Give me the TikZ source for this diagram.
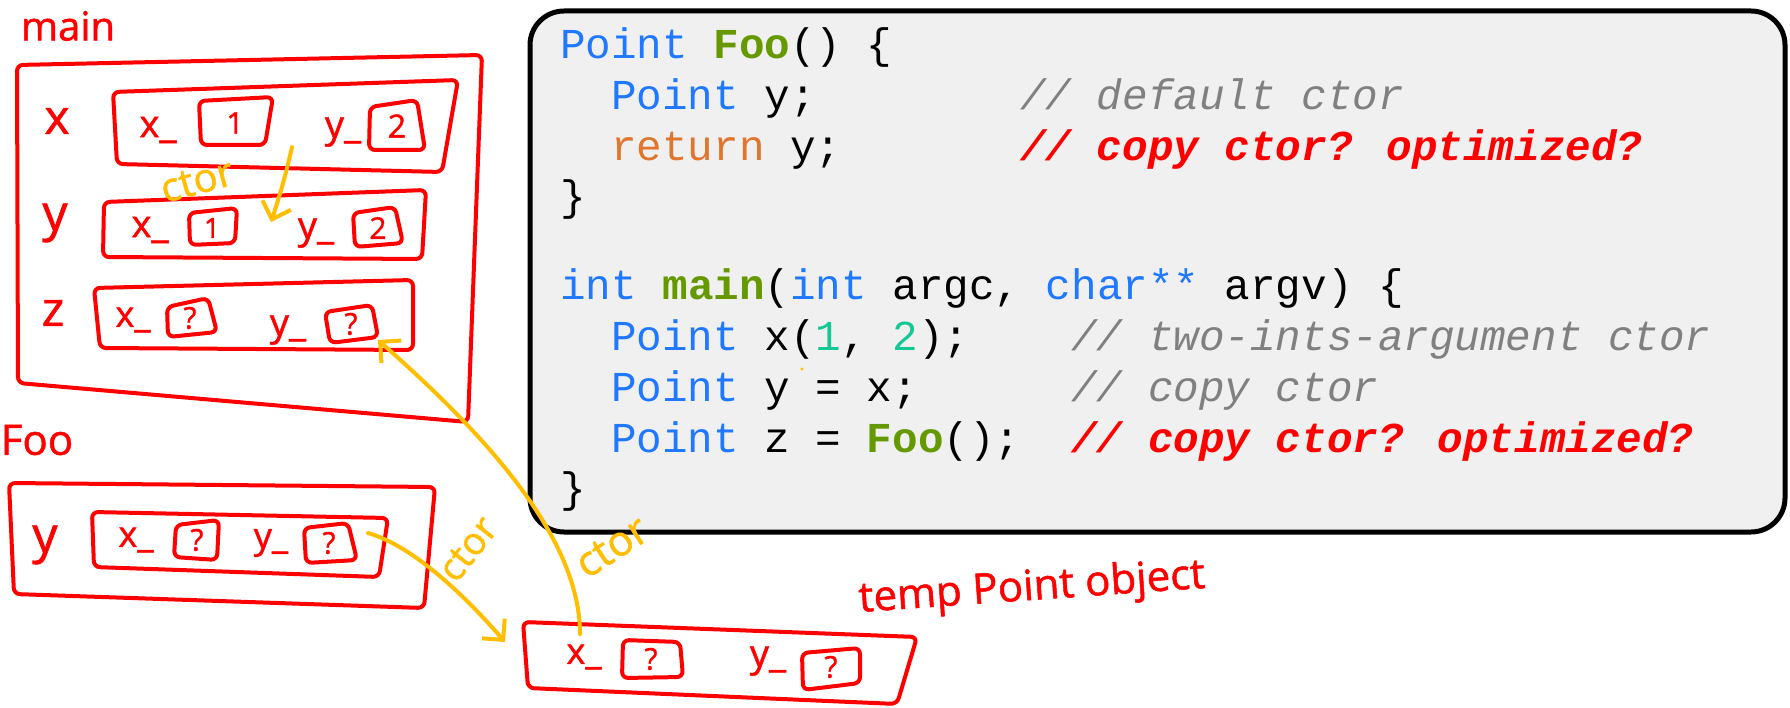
\documentclass[tikz,border=0pt]{standalone}
\usepackage{fontspec}
\usetikzlibrary{arrows.meta}
\newfontfamily\handfont[FakeBold=1.2]{Open Sans}
\newfontfamily\codefont{Liberation Mono}
\definecolor{inkred}{RGB}{255,0,0}
\definecolor{penyellow}{RGB}{255,190,0}
\definecolor{boxgray}{RGB}{240,240,240}
\definecolor{kw}{RGB}{31,120,255}
\definecolor{fn}{RGB}{102,153,0}
\definecolor{ret}{RGB}{224,117,45}
\definecolor{num}{RGB}{20,200,150}
\definecolor{cmt}{RGB}{128,128,128}
\definecolor{cmtred}{RGB}{255,0,0}
\begin{document}
\begin{tikzpicture}[x=1pt,y=-1pt,
  ink/.style={draw=inkred, line width=4pt, line cap=round, line join=round, rounded corners=6pt},
  pen/.style={draw=penyellow, line width=4pt, line cap=round, line join=round,
    -{Straight Barb[length=15pt,width=30pt]}},
  hw/.style={text=inkred, inner sep=0pt, font=\handfont\fontsize{#1}{#1}\selectfont},
  hwy/.style={text=penyellow, inner sep=0pt, font=\handfont\fontsize{#1}{#1}\selectfont},
  codeline/.style={anchor=base west, inner sep=0pt, text=black,
    font=\codefont\fontsize{42.6}{51}\selectfont},
  codebox/.style={draw=black, line width=5pt, fill=boxgray, rounded corners=34pt}]
\useasboundingbox (0,0) rectangle (1790,708);
\fill[white] (0,0) rectangle (1790,708);

% ---------- code panel ----------
\draw[codebox] (530,11) rectangle (1785,532);
\node[codeline] (l1) at (560,59) {{\color{kw}Point} {\bfseries\color{fn}Foo}() \{};
\node[codeline] (l2) at (611.1,110) {{\color{kw}Point} y;};
\node[codeline, text=cmt] (c2) at (1020.1,110) {\itshape // default ctor};
\node[codeline] (l3) at (611.1,161) {{\color{ret}return} y;};
\node[codeline, text=cmtred] (c3) at (1020.1,161) {\bfseries\itshape // copy ctor? optimized?};
\node[codeline] (l4) at (560,211) {\}};
\node[codeline] (l6) at (560,300) {{\color{kw}int} {\bfseries\color{fn}main}({\color{kw}int} argc, {\color{kw}char**} argv) \{};
\node[codeline] (l7) at (611.1,351) {{\color{kw}Point} x({\color{num}1}, {\color{num}2});};
\node[codeline, text=cmt] (c7) at (1071.2,351) {\itshape // two-ints-argument ctor};
\node[codeline] (l8) at (611.1,401) {{\color{kw}Point} y = x;};
\node[codeline, text=cmt] (c8) at (1071.2,401) {\itshape // copy ctor};
\node[codeline] (l9) at (611.1,452) {{\color{kw}Point} z = {\bfseries\color{fn}Foo}();};
\node[codeline, text=cmtred] (c9) at (1071.2,452) {\bfseries\itshape // copy ctor? optimized?};
\node[codeline] (l10) at (560,502) {\}};
\fill[penyellow] (802,369) circle (1.6);

% ---------- main frame ----------
\node[hw=40] (mainlbl) at (68,26) {main};
\draw[ink] (17,65) -- (482,55) -- (468,422) -- (18,383) -- cycle;

% x row
\node[hw=48] (xl) at (57,121) {x};
\draw[ink] (113,92) -- (458,80) -- (442,172) -- (117,164) -- cycle;
\node[hw=38] (xx) at (158,130) {x\_};
\draw[ink] (199,101) -- (273,97) -- (265,145) -- (201,145) -- cycle;
\node[hw=30] (xxv) at (235,123) {1};
\node[hw=38] (xy) at (343,132) {y\_};
\draw[ink] (370,107) -- (417,100) -- (425,150) -- (369,150) -- cycle;
\node[hw=32] (xyv) at (397,126) {2};

% y row
\node[hw=50] (yl) at (55,223) {y};
\draw[ink] (104,202) -- (426,190) -- (422,259) -- (103,257) -- cycle;
\node[hw=38] (yx) at (150,230) {x\_};
\draw[ink] (189,213) -- (237,208) -- (235,243) -- (190,245) -- cycle;
\node[hw=28] (yxv) at (212,228) {1};
\node[hw=38] (yy) at (316,233) {y\_};
\draw[ink] (353,213) -- (395,207) -- (403,243) -- (355,247) -- cycle;
\node[hw=30] (yyv) at (378,228) {2};

% z row
\node[hw=48] (zl) at (53,313) {z};
\draw[ink] (94,288) -- (413,280) -- (413,350) -- (100,348) -- cycle;
\node[hw=36] (zx) at (133,320) {x\_};
\draw[ink] (167,307) -- (208,298) -- (217,332) -- (168,337) -- cycle;
\node[hw=30] (zxv) at (190,318) {?};
\node[hw=38] (zy) at (288,330) {y\_};
\draw[ink] (325,312) -- (372,305) -- (378,337) -- (330,343) -- cycle;
\node[hw=30] (zyv) at (351,324) {?};

% ---------- Foo frame ----------
\node[hw=42] (foolbl) at (37,440) {Foo};
\draw[ink] (9,483) -- (435,487) -- (424,608) -- (14,594) -- cycle;
\node[hw=50] (fyl) at (45,545) {y};
\draw[ink] (92,512) -- (388,518) -- (379,577) -- (94,567) -- cycle;
\node[hw=36] (fx) at (136,540) {x\_};
\draw[ink] (176,525) -- (219,520) -- (217,560) -- (174,557) -- cycle;
\node[hw=30] (fxv) at (197,540) {?};
\node[hw=36] (fy) at (271,543) {y\_};
\draw[ink] (304,528) -- (348,523) -- (357,560) -- (306,563) -- cycle;
\node[hw=30] (fyv) at (329,543) {?};

% ---------- temporary object ----------
\node[hw=42, rotate=4] (templbl) at (1032,589) {temp Point object};
\draw[ink] (523,622) -- (917,637) -- (897,704) -- (528,688) -- cycle;
\node[hw=36] (tx) at (584,657) {x\_};
\draw[ink] (623,640) -- (680,642) -- (683,677) -- (622,678) -- cycle;
\node[hw=30] (txv) at (651,659) {?};
\node[hw=38] (ty) at (768,661) {y\_};
\draw[ink] (802,653) -- (860,648) -- (860,683) -- (803,690) -- cycle;
\node[hw=30] (tyv) at (831,667) {?};

% ---------- constructor arrows ----------
\coordinate (xsrc) at (292,147);
\coordinate (ydst) at (271,222);
\coordinate (fsrc) at (368,533);
\coordinate (tdst) at (505,642);
\coordinate (tsrc) at (580,634);
\coordinate (zdst) at (378,340);
\draw[pen] (xsrc) .. controls (287,170) and (280,195) .. (ydst);
\draw[pen] (fsrc) .. controls (410,545) and (460,590) .. (tdst);
\draw[pen] (tsrc) .. controls (580,535) and (480,430) .. (zdst);
\node[hwy=40, rotate=15] (ctor1) at (197,181) {ctor};
\node[hwy=38, rotate=52] (ctor2) at (468,549) {ctor};
\node[hwy=42, rotate=33] (ctor3) at (612,547) {ctor};
\end{tikzpicture}
\end{document}
